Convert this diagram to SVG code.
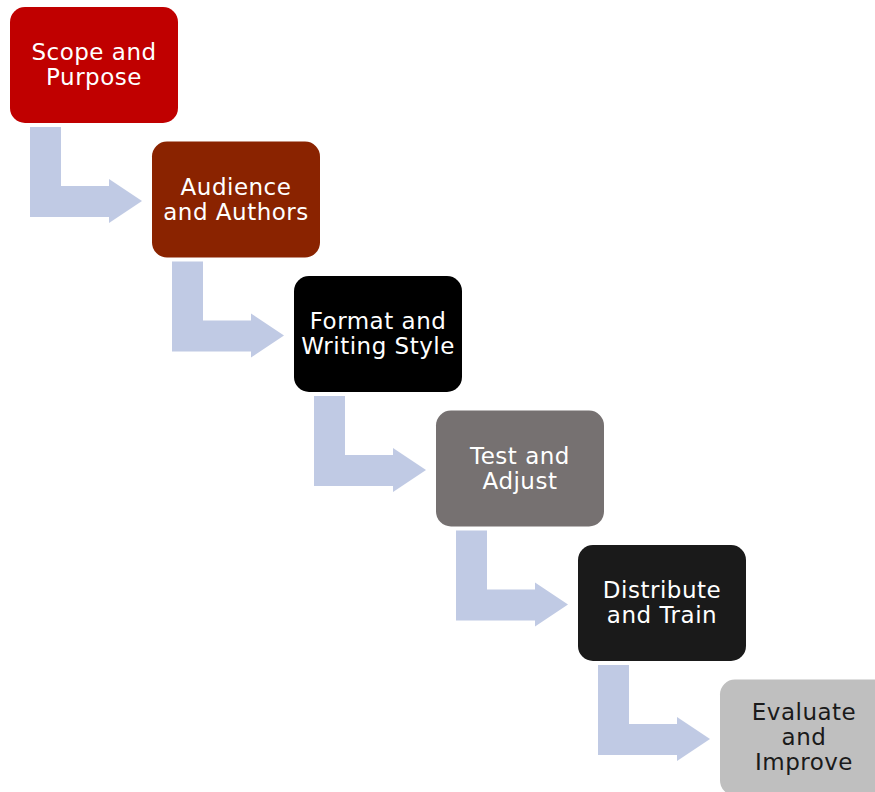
<svg xmlns="http://www.w3.org/2000/svg" width="875" height="792" viewBox="0 0 875 792">
<style>
.box{stroke:none}
.t{font-family:"DejaVu Sans","Liberation Sans",sans-serif;font-size:23px;letter-spacing:0.5px;text-anchor:middle;fill:#ffffff}
.dark{fill:#1a1a1a}
.arr{fill:#c0cae4}
</style>
<defs>
<path id="bend" d="M20,120 H51 V179 H99 V172 L132,194 L99,216 V210 H20 Z"/>
</defs>
<rect width="875" height="792" fill="#ffffff"/>
<g id="connectors">
<use href="#bend" class="arr" x="10" y="7"/>
<use href="#bend" class="arr" x="152" y="141.5"/>
<use href="#bend" class="arr" x="294" y="276"/>
<use href="#bend" class="arr" x="436" y="410.5"/>
<use href="#bend" class="arr" x="578" y="545"/>
</g>
<g id="n1"><rect class="box" x="10" y="7" width="168" height="116" rx="15" fill="#c00000"/>
<text class="t" x="94" y="60">Scope and</text><text class="t" x="94" y="85">Purpose</text></g>
<g id="n2"><rect class="box" x="152" y="141.5" width="168" height="116" rx="15" fill="#8a2300"/>
<text class="t" x="236" y="194.5">Audience</text><text class="t" x="236" y="219.5">and Authors</text></g>
<g id="n3"><rect class="box" x="294" y="276" width="168" height="116" rx="15" fill="#000000"/>
<text class="t" x="378" y="329">Format and</text><text class="t" x="378" y="354">Writing Style</text></g>
<g id="n4"><rect class="box" x="436" y="410.5" width="168" height="116" rx="15" fill="#767171"/>
<text class="t" x="520" y="463.5">Test and</text><text class="t" x="520" y="488.5">Adjust</text></g>
<g id="n5"><rect class="box" x="578" y="545" width="168" height="116" rx="15" fill="#1a1a1a"/>
<text class="t" x="662" y="598">Distribute</text><text class="t" x="662" y="623">and Train</text></g>
<g id="n6"><rect class="box" x="720" y="679.5" width="168" height="116" rx="15" fill="#bfbfbf"/>
<text class="t dark" x="804" y="720">Evaluate</text><text class="t dark" x="804" y="745">and</text><text class="t dark" x="804" y="770">Improve</text></g>
</svg>
